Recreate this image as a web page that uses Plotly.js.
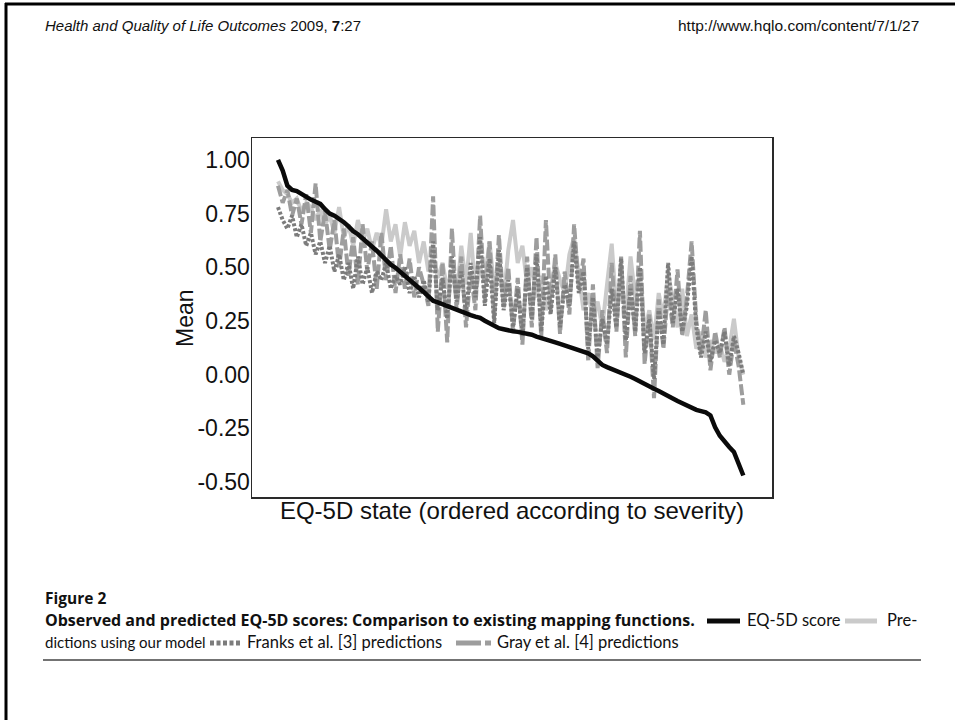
<!DOCTYPE html>
<html>
<head>
<meta charset="utf-8">
<script src="https://cdn.plot.ly/plotly-3.0.1.min.js"></script>
<style>
  html, body { margin: 0; padding: 0; background: #ffffff; }
  #fig { width: 955px; height: 720px; }
</style>
</head>
<body>
<div id="fig"></div>
<script>
// EQ-5D health states, ordered by observed severity (index along the x axis)
const stateCount = 100;
const states = Array.from({length: stateCount}, (_, i) => i);

// Observed mean EQ-5D score per state
const observedScore = [
  1.00, 0.95, 0.88, 0.86, 0.855, 0.84, 0.83, 0.815, 0.805, 0.795,
  0.77, 0.75, 0.74, 0.727, 0.71, 0.69, 0.668, 0.654, 0.636, 0.619,
  0.60, 0.577, 0.555, 0.53, 0.512, 0.498, 0.48, 0.46, 0.439, 0.42,
  0.403, 0.385, 0.364, 0.344, 0.336, 0.327, 0.318, 0.310, 0.302, 0.294,
  0.283, 0.277, 0.270, 0.264, 0.251, 0.238, 0.226, 0.216, 0.211, 0.205,
  0.202, 0.199, 0.196, 0.194, 0.186, 0.177, 0.169, 0.163, 0.157, 0.150,
  0.143, 0.135, 0.126, 0.118, 0.112, 0.105, 0.099, 0.085, 0.066, 0.045,
  0.035, 0.027, 0.019, 0.010, 0.002, -0.010, -0.020, -0.033, -0.046, -0.057,
  -0.066, -0.076, -0.086, -0.100, -0.111, -0.123, -0.134, -0.145, -0.156, -0.164,
  -0.170, -0.176, -0.190, -0.245, -0.285, -0.315, -0.337, -0.36, -0.41, -0.47
];

// Predictions from our mapping model
const ourModel = [
  0.90, 0.86, 0.84, 0.80, 0.82, 0.76, 0.80, 0.78, 0.72, 0.77,
  0.70, 0.74, 0.66, 0.78, 0.64, 0.70, 0.60, 0.72, 0.62, 0.68,
  0.58, 0.66, 0.60, 0.77, 0.62, 0.70, 0.55, 0.71, 0.60, 0.67,
  0.52, 0.62, 0.48, 0.55, 0.45, 0.52, 0.40, 0.48, 0.36, 0.60,
  0.42, 0.66, 0.38, 0.50, 0.44, 0.62, 0.40, 0.48, 0.35, 0.58,
  0.72, 0.52, 0.60, 0.42, 0.50, 0.36, 0.46, 0.30, 0.40, 0.52,
  0.44, 0.38, 0.56, 0.64, 0.46, 0.30, 0.38, 0.26, 0.34, 0.22,
  0.42, 0.61, 0.30, 0.45, 0.28, 0.55, 0.36, 0.48, 0.20, 0.30,
  0.16, 0.38, 0.26, 0.48, 0.34, 0.22, 0.40, 0.18, 0.28, 0.12,
  0.20, 0.08, 0.16, 0.10, 0.14, 0.06, 0.12, 0.26, 0.08, 0.00
];

// Franks et al. [3] predictions
const franksPred = [
  0.78, 0.72, 0.68, 0.74, 0.64, 0.70, 0.60, 0.66, 0.56, 0.62,
  0.52, 0.60, 0.48, 0.56, 0.44, 0.52, 0.40, 0.55, 0.42, 0.50,
  0.38, 0.48, 0.44, 0.52, 0.40, 0.46, 0.42, 0.50, 0.38, 0.46,
  0.36, 0.44, 0.34, 0.62, 0.30, 0.45, 0.26, 0.55, 0.34, 0.48,
  0.28, 0.52, 0.36, 0.64, 0.32, 0.54, 0.24, 0.58, 0.30, 0.44,
  0.22, 0.40, 0.18, 0.50, 0.26, 0.56, 0.20, 0.46, 0.28, 0.50,
  0.22, 0.42, 0.32, 0.62, 0.38, 0.48, 0.12, 0.36, 0.08, 0.26,
  0.14, 0.40, 0.22, 0.54, 0.16, 0.40, 0.20, 0.50, 0.10, 0.26,
  -0.02, 0.30, 0.14, 0.52, 0.24, 0.40, 0.20, 0.32, 0.55, 0.22,
  0.08, 0.20, 0.06, 0.16, 0.10, 0.20, 0.04, 0.18, 0.10, 0.00
];

// Gray et al. [4] predictions
const grayPred = [
  0.88, 0.80, 0.86, 0.74, 0.82, 0.70, 0.84, 0.66, 0.89, 0.62,
  0.76, 0.58, 0.72, 0.50, 0.68, 0.46, 0.64, 0.42, 0.70, 0.48,
  0.62, 0.40, 0.66, 0.44, 0.60, 0.38, 0.56, 0.40, 0.54, 0.36,
  0.50, 0.42, 0.32, 0.83, 0.20, 0.52, 0.15, 0.68, 0.30, 0.55,
  0.22, 0.48, 0.30, 0.74, 0.35, 0.62, 0.26, 0.65, 0.31, 0.50,
  0.20, 0.45, 0.14, 0.55, 0.22, 0.64, 0.17, 0.72, 0.30, 0.56,
  0.19, 0.48, 0.28, 0.70, 0.40, 0.54, 0.06, 0.42, 0.03, 0.30,
  0.10, 0.52, 0.20, 0.55, 0.08, 0.46, 0.18, 0.67, 0.05, 0.28,
  -0.11, 0.35, 0.12, 0.40, 0.22, 0.49, 0.18, 0.36, 0.62, 0.25,
  0.10, 0.30, 0.02, 0.20, 0.08, 0.22, 0.00, 0.16, 0.04, -0.14
];

const yTickValues = [1.00, 0.75, 0.50, 0.25, 0.00, -0.25, -0.50];
const yTickLabels = ['1.00', '0.75', '0.50', '0.25', '0.00', '-0.25', '-0.50'];

// Page geometry (pixels) for the plot frame
const W = 955, H = 720;
const frame = {left: 252, right: 772, top: 138, bottom: 497};
const px = x => (x - frame.left) / (frame.right - frame.left);
const py = y => (frame.bottom - y) / (frame.bottom - frame.top);

const colors = {
  observed: '#0a0a0a',
  ours: '#cacaca',
  franks: '#7c7c7c',
  gray: '#9d9d9d'
};

const traces = [
  {x: states, y: ourModel, mode: 'lines', name: 'Predictions using our model',
   line: {color: colors.ours, width: 4}},
  {x: states, y: grayPred, mode: 'lines', name: 'Gray et al. [4] predictions',
   line: {color: colors.gray, width: 4, dash: '11px,3px'}},
  {x: states, y: franksPred, mode: 'lines', name: 'Franks et al. [3] predictions',
   line: {color: colors.franks, width: 4, dash: '3px,2px'}},
  {x: states, y: observedScore, mode: 'lines', name: 'EQ-5D score',
   line: {color: colors.observed, width: 4.5}}
];

const sans = 'Liberation Sans, Arial, sans-serif';
const captionFont = 'Lato, Open Sans, sans-serif';
const captionBold = 'Open Sans, Noto Sans, sans-serif';

const header = [
  {text: '<i>Health and Quality of Life Outcomes</i> 2009, <b>7</b>:27',
   x: px(43), y: py(25), xanchor: 'left', yanchor: 'middle'},
  {text: 'http://www.hqlo.com/content/7/1/27',
   x: px(921), y: py(25), xanchor: 'right', yanchor: 'middle',
   font: {family: sans, size: 15.5, color: '#111'}},
].map(a => Object.assign({xref: 'paper', yref: 'paper', showarrow: false,
  font: {family: sans, size: 15, color: '#111'}}, a));

// y-axis title, placed beside the tick labels
const yTitle = {
  text: 'Mean', textangle: -90, xref: 'paper', yref: 'paper', showarrow: false,
  x: px(185), y: py(318), xanchor: 'center', yanchor: 'middle',
  font: {family: sans, size: 23, color: '#111'}
};

const caption = [
  {text: '<b>Figure 2</b>', x: px(43), y: py(598),
   font: {family: captionBold, size: 15.5, color: '#111'}},
  {text: '<b>Observed and predicted EQ-5D scores: Comparison to existing mapping functions.</b>',
   x: px(43), y: py(620), font: {family: captionBold, size: 16, color: '#111'}},
  {text: 'EQ-5D score', x: px(745), y: py(620)},
  {text: 'Pre-', x: px(885), y: py(620)},
  {text: 'dictions using our model', x: px(43), y: py(642),
   font: {family: captionFont, size: 15, color: '#111'}},
  {text: 'Franks et al. [3] predictions', x: px(245), y: py(642)},
  {text: 'Gray et al. [4] predictions', x: px(495), y: py(642)}
].map(a => Object.assign({xref: 'paper', yref: 'paper', showarrow: false,
  xanchor: 'left', yanchor: 'middle',
  font: {family: captionFont, size: 16.5, color: '#111'}}, a));

const seg = (x0, x1, y, color, width, dash) => ({
  type: 'line', xref: 'paper', yref: 'paper',
  x0: px(x0), x1: px(x1), y0: py(y), y1: py(y),
  line: {color, width, dash: dash || 'solid'}
});

const shapes = [
  // page border
  seg(5, 955, 4, '#000', 3),
  {type: 'line', xref: 'paper', yref: 'paper', x0: px(6), x1: px(6), y0: py(3), y1: py(720),
   line: {color: '#000', width: 3}},
  // caption legend keys
  seg(707, 740, 621, colors.observed, 5),
  seg(845, 877, 621, colors.ours, 5),
  seg(210, 242, 643, colors.franks, 5, '4px,2.5px'),
  seg(456, 491, 643, colors.gray, 5, '25px,4px'),
  // rule under caption
  seg(43, 921, 660, '#444', 1.5)
];

const layout = {
  width: W, height: H,
  margin: {l: frame.left, r: W - frame.right, t: frame.top, b: H - frame.bottom, pad: 0},
  paper_bgcolor: '#ffffff',
  plot_bgcolor: '#ffffff',
  showlegend: false,
  xaxis: {
    range: [-5.53, 105.1],
    showgrid: false, zeroline: false, showticklabels: false, ticks: '',
    showline: true, mirror: true, linecolor: '#2a2a2a', linewidth: 1.5,
    title: {text: 'EQ-5D state (ordered according to severity)',
            font: {family: sans, size: 24, color: '#111'}, standoff: 4}
  },
  yaxis: {
    range: [-0.570, 1.102],
    tickvals: yTickValues, ticktext: yTickLabels,
    showgrid: false, zeroline: false, ticks: '',
    ticklabelstandoff: -4,
    showline: true, mirror: true, linecolor: '#2a2a2a', linewidth: 1.5,
    tickfont: {family: sans, size: 23, color: '#111'}
  },
  annotations: header.concat([yTitle], caption),
  shapes
};

Plotly.newPlot('fig', traces, layout, {staticPlot: true, displayModeBar: false});
</script>
</body>
</html>
